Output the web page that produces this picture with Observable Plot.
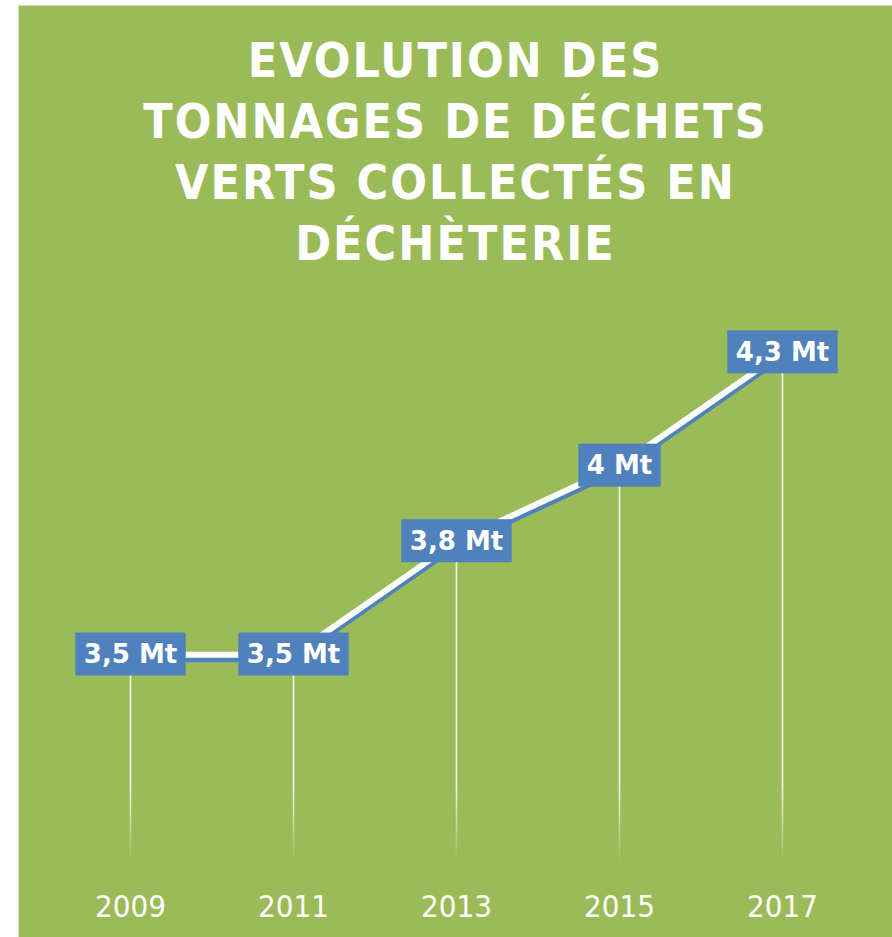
<!DOCTYPE html>
<html>
<head>
<meta charset="utf-8">
<script src="https://cdn.jsdelivr.net/npm/d3@7"></script>
<script src="https://cdn.jsdelivr.net/npm/@observablehq/plot@0.6"></script>
<style>
  html, body { margin: 0; padding: 0; background: #ffffff; overflow: hidden; }
  #panel {
    position: absolute; left: 18px; top: 5px; width: 873px; height: 960px;
    background: #9BBB59; border: 1px solid #d6d6d6;
  }
  #title {
    margin: 0; padding-top: 24px; text-align: center; color: #ffffff;
    font-family: "DejaVu Sans Condensed", "DejaVu Sans", sans-serif; font-stretch: condensed;
    font-weight: bold; font-size: 48px; line-height: 61px; letter-spacing: 2px;
  }
  #chart svg { display: block; }
</style>
</head>
<body>
<div id="panel">
  <h1 id="title">EVOLUTION DES<br>TONNAGES DE DÉCHETS<br>VERTS COLLECTÉS EN<br>DÉCHÈTERIE</h1>
  <div id="chart"></div>
</div>
<script>
const years = [2009, 2011, 2013, 2015, 2017];
const tonnages = [3.5, 3.5, 3.8, 4.0, 4.3];
const labels = ["3,5 Mt", "3,5 Mt", "3,8 Mt", "4 Mt", "4,3 Mt"];

const data = years.map((year, i) => ({year, value: tonnages[i], label: labels[i]}));

const green = "#9BBB59";
const blue = "#4F81BD";
const yBase = 2.95;

const chart = Plot.plot({
  width: 873,
  height: 663,
  marginLeft: 111,
  marginRight: 110,
  marginTop: 78,
  marginBottom: 75,
  style: {background: "none", color: "#ffffff", fontFamily: "'DejaVu Sans Condensed', 'DejaVu Sans', sans-serif", overflow: "visible"},
  x: {domain: [years[0], years[years.length - 1]], ticks: years, tickFormat: "d", label: null},
  y: {domain: [yBase, d3.max(tonnages)], axis: null},
  marks: [
    Plot.ruleX(data, {x: "year", y1: "value", y2: yBase, stroke: "url(#dropFade)", strokeWidth: 1.6}),
    Plot.line(data, {x: "year", y: "value", stroke: blue, strokeWidth: 5, dy: 5}),
    Plot.line(data, {x: "year", y: "value", stroke: "#ffffff", strokeWidth: 6}),
    Plot.text(data, {x: "year", y: "value", text: "label", fill: "#ffffff", fontSize: 26, fontWeight: "bold", fontFamily: "'DejaVu Sans', sans-serif"}),
    Plot.axisX({ticks: years, tickFormat: "d", tickSize: 0, tickPadding: 32, fontSize: 31, fill: "#ffffff", label: null, fontFamily: "'DejaVu Sans Condensed', 'DejaVu Sans', sans-serif"})
  ]
});

document.getElementById("chart").appendChild(chart);

// gradient for the fading drop lines, positioned through the y scale
const yScale = chart.scale("y");
const ns = "http://www.w3.org/2000/svg";
const defs = document.createElementNS(ns, "defs");
const grad = document.createElementNS(ns, "linearGradient");
grad.setAttribute("id", "dropFade");
grad.setAttribute("gradientUnits", "userSpaceOnUse");
grad.setAttribute("x1", "0"); grad.setAttribute("x2", "0");
grad.setAttribute("y1", yScale.apply(3.16));
grad.setAttribute("y2", yScale.apply(yBase));
[["0", 0.9], ["1", 0]].forEach(([off, op]) => {
  const s = document.createElementNS(ns, "stop");
  s.setAttribute("offset", off);
  s.setAttribute("stop-color", "#ffffff");
  s.setAttribute("stop-opacity", op);
  grad.appendChild(s);
});
defs.appendChild(grad);
chart.insertBefore(defs, chart.firstChild);

// blue boxes behind the value labels, sized from the rendered text
const textGroup = chart.querySelector('g[aria-label="text"]');
if (textGroup) {
  textGroup.querySelectorAll("text").forEach(t => {
    const bb = t.getBBox();
    const padX = 8.5, padY = 7.5;
    const r = document.createElementNS(ns, "rect");
    r.setAttribute("x", bb.x - padX);
    r.setAttribute("y", bb.y - padY + 1);
    r.setAttribute("width", bb.width + 2 * padX);
    r.setAttribute("height", bb.height + 2 * padY - 2);
    r.setAttribute("fill", blue);
    const tr = t.getAttribute("transform");
    if (tr) r.setAttribute("transform", tr);
    textGroup.insertBefore(r, t);
  });
}
</script>
</body>
</html>
